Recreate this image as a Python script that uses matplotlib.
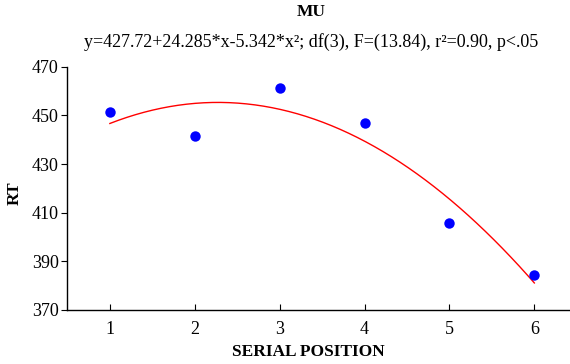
import numpy as np
import matplotlib
matplotlib.use("Agg")
import matplotlib.pyplot as plt

plt.rcParams['font.family'] = ['Liberation Serif', 'DejaVu Serif']

positions = [1, 2, 3, 4, 5, 6]
rt = [451.5, 441.7, 461.2, 446.8, 405.6, 384.2]
coef = [427.72, 24.285, -5.342]
yticks = [370, 390, 410, 430, 450, 470]
xticks = [1, 2, 3, 4, 5, 6]

fig = plt.figure(figsize=(5.7, 3.64), dpi=100)
ax = fig.add_axes([67/570, 1-310/364, (570-67)/570, (310-66.7)/364])

xs = np.linspace(1, 6, 200)
ax.plot(xs, coef[0] + coef[1]*xs + coef[2]*xs**2, color='red', lw=1.0)
ax.plot(positions, rt, 'o', color='blue', markersize=7.5, markeredgewidth=0)

ax.set_xlim(0.495, 6.42)
ax.set_ylim(370, 470)
ax.set_xticks(xticks)
ax.set_yticks(yticks)
ax.spines['top'].set_visible(False)
ax.spines['right'].set_visible(False)
for s in ['left', 'bottom']:
    ax.spines[s].set_linewidth(1.0)
ax.tick_params(axis='x', direction='in', length=4, labelsize=13, pad=8)
ax.tick_params(axis='y', direction='out', length=4, labelsize=13, pad=2)

ax.set_xlabel('SERIAL POSITION', fontsize=12.5, fontweight='bold')
ax.xaxis.set_label_coords((308-67)/(570-67), -(352-310)/(310-66.7), transform=ax.transAxes)
ax.xaxis.label.set_va('center')
ax.set_ylabel('RT', fontsize=12.5, fontweight='bold')
ax.yaxis.set_label_coords(-(67-15)/(570-67), (310-193)/(310-66.7), transform=ax.transAxes)
ax.yaxis.label.set_va('center')

fig.text(311/570, 1-12/364, 'MU', ha='center', va='center', fontsize=12.5, fontweight='bold')
fig.text(311/570, 1-42/364, 'y=427.72+24.285*x-5.342*x²; df(3), F=(13.84), r²=0.90, p<.05',
         ha='center', va='center', fontsize=13)

fig.savefig('out.png', dpi=100)
